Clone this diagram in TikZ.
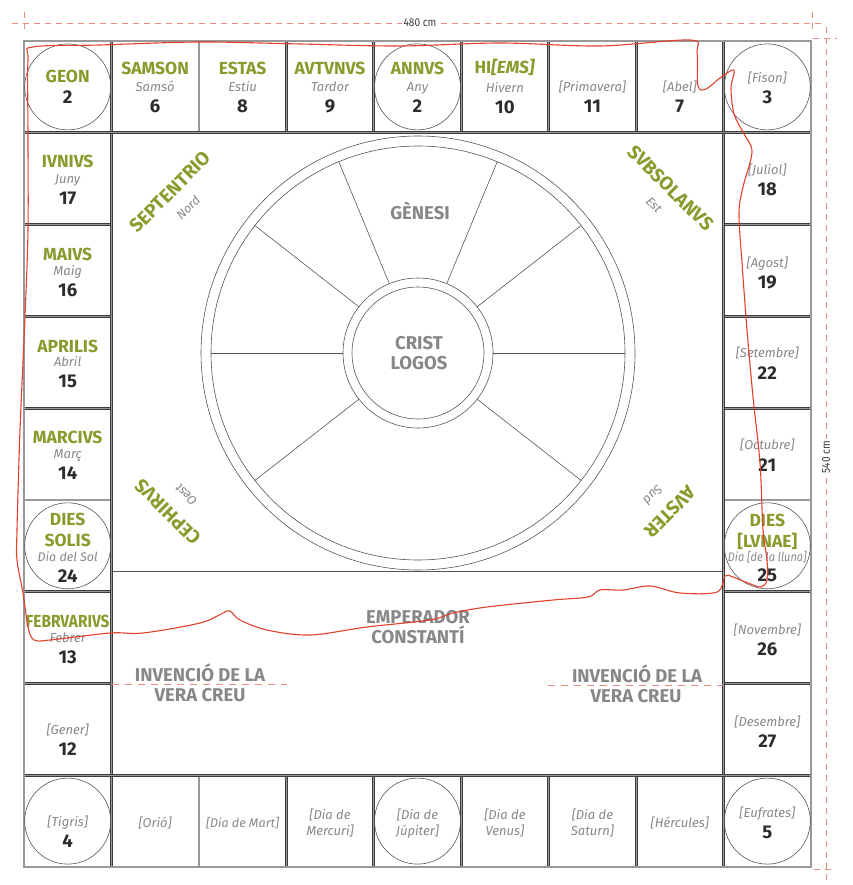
\documentclass[tikz,border=0pt]{standalone}
\usepackage{fontspec}
\setmainfont{Fira Sans}
\newfontfamily\condf{Fira Sans}[FakeStretch=0.88]
\definecolor{grn}{HTML}{8A9A2C}
\definecolor{gtxt}{HTML}{878787}
\definecolor{numc}{HTML}{2C2C2C}
\definecolor{ln}{HTML}{3C3C3C}
\definecolor{cl}{HTML}{555555}
\definecolor{redl}{HTML}{E2402A}
\definecolor{redd}{HTML}{EC8A7C}
\begin{document}
\begin{tikzpicture}[x=1pt,y=-1pt,
  dl/.style={draw=ln, double=black!40, double distance=1.2pt, line width=0.8pt},
  thinl/.style={draw=cl, line width=0.6pt},
  cc/.style={circle, draw=cl, line width=0.6pt, minimum size=86pt, inner sep=0pt},
  gl/.style={anchor=base, yshift=-6pt, inner sep=0pt, text=grn, font=\fontsize{17.5}{19}\selectfont\bfseries},
  it/.style={anchor=base, yshift=-4.5pt, inner sep=0pt, text=gtxt, font=\fontsize{13}{14}\selectfont\itshape},
  nm/.style={anchor=base, yshift=-6.4pt, inner sep=0pt, text=numc, font=\fontsize{18.5}{20}\selectfont\bfseries},
  ct/.style={anchor=base, yshift=-6.4pt, inner sep=0pt, text=gtxt, font=\fontsize{18.5}{20}\selectfont\bfseries},
  wind/.style={anchor=center, inner sep=0pt, text=grn, font=\fontsize{19}{20}\selectfont\bfseries},
  windit/.style={anchor=center, inner sep=0pt, text=gtxt, font=\fontsize{12.5}{14}\selectfont\itshape},
  dim/.style={draw=redd, dash pattern=on 6pt off 5pt, line width=0.8pt},
  dimtxt/.style={fill=white, inner sep=2pt, text=ln, font=\fontsize{11.5}{12}\selectfont\condf},
  vcdash/.style={draw=redd, dash pattern=on 7pt off 6pt, line width=0.8pt},
  redline/.style={draw=redl, line width=1.1pt, line join=round}
]
\useasboundingbox (0,0) rectangle (852,885);

% ---------- big wheel ----------
\coordinate (C) at (418,353);
\draw[thinl] (C) circle[radius=217];
\draw[thinl] (C) circle[radius=207];
\draw[thinl] (C) circle[radius=75];
\draw[thinl] (C) circle[radius=66];
\foreach \a in {0,-38,-67.5,-112.5,-142,180,-218,-322}
  \draw[thinl] (C) ++(\a:75) -- ++(\a:132);
\draw[thinl] (111.4,571) -- (723.5,571);

% ---------- grid ----------
\foreach \x in {198.9,286.3,373.8,461.2,548.6,636.1} {
  \draw[dl] (\x,41) -- (\x,132.8);
  \draw[dl] (\x,775.2) -- (\x,867);
}
\foreach \y in {224.6,316.3,408.1,499.9,591.7,683.4} {
  \draw[dl] (24,\y) -- (111.4,\y);
  \draw[dl] (723.5,\y) -- (811,\y);
}
\draw[dl] (111.4,41) -- (111.4,867);
\draw[dl] (723.5,41) -- (723.5,867);
\draw[dl] (24,132.8) -- (811,132.8);
\draw[dl] (24,775.2) -- (811,775.2);
\draw[dl] (24,41) rectangle (811,867);

% ---------- circles in cells ----------
\node[cc] (cgeon) at (67.7,86.9) {};
\node[cc] (cannvs) at (417.5,86.9) {};
\node[cc] (cfison) at (767.3,86.9) {};
\node[cc] (csol) at (67.7,545.8) {};
\node[cc] (clvna) at (767.3,545.8) {};
\node[cc] (ctigris) at (67.7,821.1) {};
\node[cc] (cjup) at (417.5,821.1) {};
\node[cc] (ceufr) at (767.3,821.1) {};

% ---------- top row ----------
\node[gl] (t1a) at (67.7,77) {GEON};
\node[nm] (t1c) at (67.7,97) {2};
\node[gl] (t2a) at (155.2,69) {SAMSON};
\node[it] (t2b) at (155.2,87) {Samsó};
\node[nm] (t2c) at (155.2,106) {6};
\node[gl] (t3a) at (242.6,69) {ESTAS};
\node[it] (t3b) at (242.6,87) {Estiu};
\node[nm] (t3c) at (242.6,106) {8};
\node[gl] (t4a) at (330.0,69) {AVTVNVS};
\node[it] (t4b) at (330.0,87) {Tardor};
\node[nm] (t4c) at (330.0,106) {9};
\node[gl] (t5a) at (417.5,69) {ANNVS};
\node[it] (t5b) at (417.5,87) {Any};
\node[nm] (t5c) at (417.5,106) {2};
\node[gl] (t6a) at (504.9,68) {HI\textit{[EMS]}};
\node[it] (t6b) at (504.9,88.5) {Hivern};
\node[nm] (t6c) at (504.9,107.5) {10};
\node[it] (t7b) at (592.4,87.5) {[Primavera]};
\node[nm] (t7c) at (592.4,106) {11};
\node[it] (t8b) at (679.8,87.5) {[Abel]};
\node[nm] (t8c) at (679.8,106) {7};
\node[it] (t9b) at (767.3,78) {[Fison]};
\node[nm] (t9c) at (767.3,97) {3};

% ---------- left column ----------
\node[gl] (l1a) at (67.7,162) {IVNIVS};
\node[it] (l1b) at (67.7,179) {Juny};
\node[nm] (l1c) at (67.7,198) {17};
\node[gl] (l2a) at (67.7,254) {MAIVS};
\node[it] (l2b) at (67.7,271) {Maig};
\node[nm] (l2c) at (67.7,290) {16};
\node[gl] (l3a) at (67.7,346) {APRILIS};
\node[it] (l3b) at (67.7,362) {Abril};
\node[nm] (l3c) at (67.7,381) {15};
\node[gl] (l4a) at (67.7,437) {MARCIVS};
\node[it] (l4b) at (67.7,454) {Març};
\node[nm] (l4c) at (67.7,473) {14};
\node[gl] (l5a) at (67.7,519) {DIES};
\node[gl] (l5d) at (67.7,540) {SOLIS};
\node[it, font=\fontsize{12.5}{13}\selectfont\itshape] (l5b) at (67.7,557) {Dia del Sol};
\node[nm] (l5c) at (67.7,576) {24};
\node[gl, font=\fontsize{17.5}{19}\selectfont\condf\bfseries] (l6a) at (67.7,621) {FEBRVARIVS};
\node[it] (l6b) at (67.7,638) {Febrer};
\node[nm] (l6c) at (67.7,657) {13};
\node[it] (l7b) at (67.7,730) {[Gener]};
\node[nm] (l7c) at (67.7,749) {12};
\node[it] (l8b) at (67.7,822) {[Tigris]};
\node[nm] (l8c) at (67.7,841) {4};

% ---------- right column ----------
\node[it] (r1b) at (767.3,170) {[Juliol]};
\node[nm] (r1c) at (767.3,189) {18};
\node[it] (r2b) at (767.3,263) {[Agost]};
\node[nm] (r2c) at (767.3,282) {19};
\node[it] (r3b) at (767.3,353) {[Setembre]};
\node[nm] (r3c) at (767.3,373) {22};
\node[it] (r4b) at (767.3,445) {[Octubre]};
\node[nm] (r4c) at (767.3,465) {21};
\node[gl] (r5a) at (767.3,520) {DIES};
\node[gl] (r5d) at (767.3,541) {[LVNAE]};
\node[it, font=\fontsize{12.5}{13}\selectfont\condf\itshape] (r5b) at (767.3,557) {Dia [de la lluna]};
\node[nm] (r5c) at (767.3,575) {25};
\node[it] (r6b) at (767.3,630) {[Novembre]};
\node[nm] (r6c) at (767.3,649) {26};
\node[it] (r7b) at (767.3,722) {[Desembre]};
\node[nm] (r7c) at (767.3,741) {27};
\node[it] (r8b) at (767.3,813) {[Eufrates]};
\node[nm] (r8c) at (767.3,832) {5};

% ---------- bottom row ----------
\node[it] (b2) at (155.2,823) {[Orió]};
\node[it, font=\fontsize{12.5}{14}\selectfont\itshape] (b3) at (242.6,823) {[Dia de Mart]};
\node[it] (b4a) at (330.0,815) {[Dia de};
\node[it] (b4b) at (330.0,831) {Mercuri]};
\node[it] (b5a) at (417.5,815) {[Dia de};
\node[it] (b5b) at (417.5,831) {Júpiter]};
\node[it] (b6a) at (504.9,815) {[Dia de};
\node[it] (b6b) at (504.9,831) {Venus]};
\node[it] (b7a) at (592.4,815) {[Dia de};
\node[it] (b7b) at (592.4,831) {Saturn]};
\node[it] (b8) at (679.8,823) {[Hércules]};

% ---------- centre texts ----------
\node[ct] (gen) at (420,213) {GÈNESI};
\node[ct] (cr1) at (419,343) {CRIST};
\node[ct] (cr2) at (419,363) {LOGOS};
\node[ct] (em1) at (418,617) {EMPERADOR};
\node[ct] (em2) at (418,637) {CONSTANTÍ};
\coordinate (vl1) at (112,684);
\coordinate (vl2) at (287,684);
\coordinate (vr1) at (548,685);
\coordinate (vr2) at (723,685);
\draw[vcdash] (vl1) -- (vl2);
\draw[vcdash] (vr1) -- (vr2);
\node[ct] (il1) at (200,675) {INVENCIÓ DE LA};
\node[ct] (il2) at (200,695) {VERA CREU};
\node[ct] (ir1) at (637,676) {INVENCIÓ DE LA};
\node[ct] (ir2) at (636,696) {VERA CREU};

% ---------- winds ----------
\node[wind, rotate=45] (w1) at (170,192) {SEPTENTRIO};
\node[windit, rotate=45] (w1b) at (188,208) {Nord};
\node[wind, rotate=-45] (w2) at (671,188) {SVBSOLANVS};
\node[windit, rotate=-45] (w2b) at (654,205) {Est};
\node[wind, rotate=135] (w3) at (168,512) {CEPHIRVS};
\node[windit, rotate=135] (w3b) at (186,495) {Oest};
\node[wind, rotate=-135] (w4) at (670,512) {AVSTER};
\node[windit, rotate=-135] (w4b) at (653,495) {Sud};

% ---------- dimension lines ----------
\coordinate (dt1) at (12,23);
\coordinate (dt2) at (821,23);
\draw[dim] (dt1) -- (dt2);
\draw[dim] (24,12) -- (24,34);
\draw[dim] (812,12) -- (812,34);
\node[dimtxt] (d480) at (420,23) {480 cm};
\coordinate (dr1) at (826,27);
\coordinate (dr2) at (826,884);
\draw[dim] (dr1) -- (dr2);
\draw[dim] (813,38) -- (837,38);
\draw[dim] (814,869) -- (836,869);
\node[dimtxt, rotate=90] (d540) at (826,457) {540 cm};

% ---------- red freehand loop ----------
\draw[redline] plot[smooth cycle, tension=0.55] coordinates {
 (28,140) (28,60) (33,47) (100,45) (200,42) (300,44) (400,46) (500,43) (600,46) (690,40)
 (697,52) (698,86) (706,89) (720,78) (734,70) (731,88) (734,114) (744,134) (752,152)
 (743,187) (739,213) (742,263) (747,330) (753,397) (760,463) (763,530) (767,560)
 (767,580) (761,587) (748,583) (733,577) (725,576) (717,592) (680,593) (650,586)
 (623,590) (600,590) (588,597) (553,600) (487,607) (453,613) (430,620) (367,627)
 (310,635) (267,630) (240,620) (230,611) (223,613) (200,623) (143,633) (110,633)
 (50,640) (34,640) (28,627) (23,593) (17,560) (17,530) (20,430) (25,317) (28,230)
};
\end{tikzpicture}
\end{document}
